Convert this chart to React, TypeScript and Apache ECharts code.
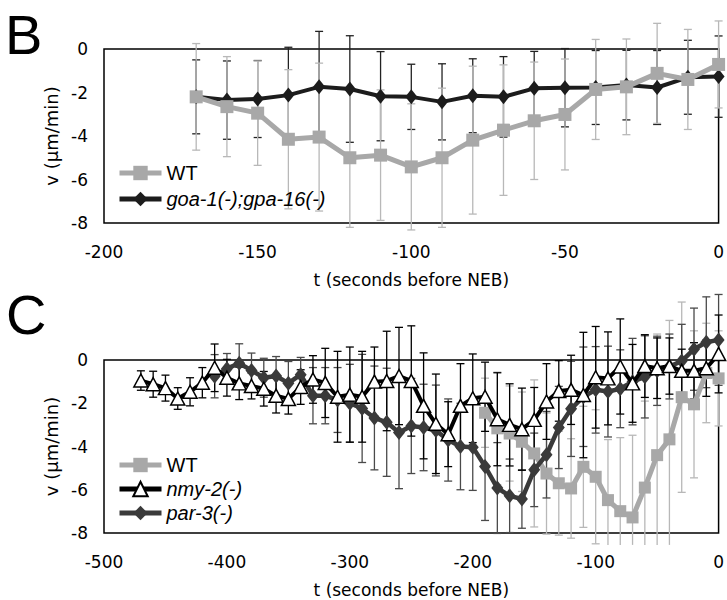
import React, { useEffect, useRef } from 'react';
import * as echarts from 'echarts';

// ---------- Panel B ----------
const tB = [-170, -160, -150, -140, -130, -120, -110, -100, -90, -80, -70, -60, -50, -40, -30, -20, -10, 0];
const wtB = [-2.2, -2.65, -2.95, -4.15, -4.05, -5.0, -4.88, -5.42, -5.0, -4.19, -3.73, -3.3, -3.01, -1.86, -1.74, -1.12, -1.4, -0.71];
const wtBErr = [2.45, 2.3, 2.4, 3.2, 3.4, 3.2, 3.0, 2.9, 3.2, 3.4, 3.0, 2.7, 2.55, 2.3, 2.2, 2.3, 2.3, 2.0];
const goaB = [-2.2, -2.35, -2.3, -2.12, -1.74, -1.84, -2.17, -2.2, -2.43, -2.15, -2.2, -1.81, -1.78, -1.77, -1.66, -1.77, -1.3, -1.27];
const goaBErr = [1.7, 1.8, 1.77, 2.2, 2.55, 2.45, 2.05, 1.5, 1.75, 1.7, 1.85, 1.7, 1.8, 1.7, 1.6, 1.7, 1.7, 1.87];

// ---------- Panel C ----------
const tWtC = [-190, -180, -170, -160, -150, -140, -130, -120, -110, -100, -90, -80, -70, -60, -50, -40, -30, -20, -10, 0];
const wtC = [-2.44, -3.16, -3.4, -3.78, -4.32, -5.25, -5.7, -5.94, -4.94, -5.4, -6.48, -6.99, -7.28, -5.9, -4.4, -3.67, -1.72, -2.05, -0.6, -0.85];
const wtCErr = [1.6, 2.6, 2.2, 2.3, 3.4, 2.8, 2.4, 2.3, 2.8, 3.1, 2.8, 3.4, 3.8, 4.0, 5.6, 5.5, 4.4, 3.4, 2.3, 2.2];

const tNmy = [-470, -460, -450, -440, -430, -420, -410, -400, -390, -380, -370, -360, -350, -340, -330, -320, -310, -300, -290, -280, -270, -260, -250, -240, -230, -220, -210, -200, -190, -180, -170, -160, -150, -140, -130, -120, -110, -100, -90, -80, -70, -60, -50, -40, -30, -20, -10, 0];
const nmy = [-0.95, -1.12, -1.3, -1.78, -1.47, -1.05, -0.36, -0.82, -1.08, -1.2, -1.33, -1.65, -1.8, -1.25, -0.9, -1.06, -1.7, -1.6, -1.7, -1.0, -0.97, -0.74, -0.97, -2.12, -2.95, -3.43, -2.12, -1.77, -1.7, -2.74, -3.0, -3.2, -2.77, -1.92, -1.43, -1.38, -1.62, -0.8, -0.85, -0.3, -1.08, -0.28, -0.38, -0.28, -0.5, -0.5, -0.38, 0.28];
const nmyErr = [0.45, 0.6, 0.6, 0.5, 0.65, 0.7, 1.1, 0.85, 0.75, 0.6, 0.8, 0.8, 0.7, 0.8, 1.1, 1.6, 2.1, 2.2, 2.1, 1.6, 2.3, 2.25, 2.55, 2.45, 2.3, 1.5, 1.95, 2.05, 1.6, 2.15, 1.9, 1.9, 1.5, 1.75, 1.4, 1.6, 2.9, 2.35, 2.15, 2.2, 1.8, 1.45, 1.4, 1.3, 1.0, 1.3, 1.3, 1.8];

const tPar = [-410, -400, -390, -380, -370, -360, -350, -340, -330, -320, -310, -300, -290, -280, -270, -260, -250, -240, -230, -220, -210, -200, -190, -180, -170, -160, -150, -140, -130, -120, -110, -100, -90, -80, -70, -60, -50, -40, -30, -20, -10, 0];
const par = [-0.75, -0.4, -0.15, -0.48, -0.82, -0.74, -1.07, -0.68, -1.65, -1.65, -1.85, -2.0, -2.24, -2.68, -2.88, -3.35, -3.05, -3.12, -3.26, -3.7, -4.0, -4.03, -4.92, -5.92, -6.28, -6.43, -5.08, -4.38, -3.12, -2.26, -1.7, -1.38, -1.46, -1.33, -1.0, -0.78, -0.5, -0.3, -0.05, 0.5, 0.82, 0.93];
const parErr = [1.0, 0.7, 0.9, 0.8, 0.9, 0.9, 1.0, 0.8, 1.3, 1.3, 1.5, 1.8, 2.5, 2.4, 2.5, 2.6, 2.2, 2.0, 2.1, 1.9, 2.0, 2.0, 2.5, 2.1, 1.7, 1.35, 1.7, 2.0, 1.9, 2.2, 2.3, 2.0, 2.1, 1.8, 2.0, 1.9, 1.6, 1.5, 1.7, 1.9, 2.1, 2.1];

const xTitle = 't (seconds before NEB)';
const yTitle = 'v (\u00b5m/min)';
const LOWER_LIMIT = -8.55; // error bars are cut off just below the plot box

const TICK_FONT = 'DejaVu Sans';
const LEG_FONT = 'Liberation Sans';

const COL_WT = '#a8a8a8';
const COL_WT_ERR = '#b8b8b8';
const COL_GOA = '#1c1c1c';
const COL_NMY = '#000000';
const COL_PAR = '#3a3a3a';

function errSeries(idx: number, ts: number[], vals: number[], errs: number[], color: string, z: number) {
  return {
    type: 'custom',
    xAxisIndex: idx,
    yAxisIndex: idx,
    silent: true,
    clip: false,
    z,
    data: ts.map((t, i) => [t, vals[i], errs[i]]),
    encode: { x: 0, y: 1 },
    renderItem: (_params: any, api: any) => {
      const x = api.value(0);
      const v = api.value(1);
      const e = api.value(2);
      const lowVal = v - e;
      const cut = lowVal < LOWER_LIMIT;
      const top = api.coord([x, v + e]);
      const bot = api.coord([x, cut ? LOWER_LIMIT : lowVal]);
      const hw = 4;
      const style = { stroke: color, lineWidth: 1.3 };
      const children: any[] = [
        { type: 'line', shape: { x1: top[0], y1: top[1], x2: bot[0], y2: bot[1] }, style },
        { type: 'line', shape: { x1: top[0] - hw, y1: top[1], x2: top[0] + hw, y2: top[1] }, style },
      ];
      if (!cut) {
        children.push({ type: 'line', shape: { x1: bot[0] - hw, y1: bot[1], x2: bot[0] + hw, y2: bot[1] }, style });
      }
      return { type: 'group', children };
    },
  };
}

function xAx(idx: number, min: number, interval: number) {
  return {
    type: 'value',
    gridIndex: idx,
    min,
    max: 0,
    interval,
    axisLine: { show: false },
    axisTick: { show: false },
    splitLine: { show: false },
    axisLabel: { fontSize: 17, fontFamily: TICK_FONT, color: '#000', margin: 20 },
    name: xTitle,
    nameLocation: 'middle',
    nameGap: 48,
    nameTextStyle: { fontSize: 17, fontFamily: TICK_FONT, color: '#000' },
  };
}

function yAx(idx: number) {
  return {
    type: 'value',
    gridIndex: idx,
    min: -8,
    max: 0,
    interval: 2,
    axisLine: { show: false },
    axisTick: { show: false },
    splitLine: { show: false },
    axisLabel: { fontSize: 17, fontFamily: TICK_FONT, color: '#000', margin: 16 },
    name: yTitle,
    nameLocation: 'middle',
    nameGap: 42,
    nameRotate: 90,
    nameTextStyle: { fontSize: 18, fontFamily: TICK_FONT, color: '#000' },
  };
}

const legendFormatter = (name: string) => (name === 'WT' ? name : `{i|${name}}`);

function legendOf(names: string[], top: number, gap: number) {
  return {
    data: names,
    orient: 'vertical',
    left: 112,
    top,
    itemGap: gap,
    itemWidth: 42,
    itemHeight: 18,
    selectedMode: false,
    formatter: legendFormatter,
    lineStyle: { width: 5 },
    textStyle: {
      fontSize: 20,
      fontFamily: LEG_FONT,
      color: '#000',
      rich: { i: { fontSize: 20, fontFamily: LEG_FONT, fontStyle: 'italic', color: '#000' } },
    },
  };
}

export default function App() {
  const ref = useRef<HTMLDivElement>(null);
  useEffect(() => {
    if (!ref.current) return;
    const chart = echarts.init(ref.current, undefined, { renderer: 'svg' });
    const option: any = {
      animation: false,
      backgroundColor: '#fff',
      grid: [
        { left: 104, top: 49, width: 619, height: 174, show: true, borderColor: '#000', borderWidth: 1.5, backgroundColor: 'transparent' },
        { left: 104, top: 360, width: 618, height: 173, show: true, borderColor: '#000', borderWidth: 1.5, backgroundColor: 'transparent' },
      ],
      xAxis: [xAx(0, -200, 50), xAx(1, -500, 100)],
      yAxis: [yAx(0), yAx(1)],
      legend: [
        legendOf(['WT', 'goa-1(-);gpa-16(-)'], 158, 6),
        legendOf(['WT', 'nmy-2(-)', 'par-3(-)'], 450, 4),
      ],
      graphic: [
        { type: 'text', left: 5, top: 6, style: { text: 'B', fontSize: 56, fontFamily: LEG_FONT, fill: '#000' } },
        { type: 'text', left: 6, top: 286, style: { text: 'C', fontSize: 56, fontFamily: LEG_FONT, fill: '#000' } },
      ],
      series: [
        errSeries(0, tB, goaB, goaBErr, '#222', 1),
        errSeries(0, tB, wtB, wtBErr, COL_WT_ERR, 1),
        {
          type: 'line', name: 'goa-1(-);gpa-16(-)', xAxisIndex: 0, yAxisIndex: 0, clip: false, z: 3,
          data: tB.map((t, i) => [t, goaB[i]]),
          symbol: 'diamond', symbolSize: [12, 15],
          lineStyle: { color: COL_GOA, width: 4 }, itemStyle: { color: COL_GOA },
        },
        {
          type: 'line', name: 'WT', xAxisIndex: 0, yAxisIndex: 0, clip: false, z: 4,
          data: tB.map((t, i) => [t, wtB[i]]),
          symbol: 'rect', symbolSize: 13,
          lineStyle: { color: COL_WT, width: 5 }, itemStyle: { color: COL_WT },
        },
        errSeries(1, tWtC, wtC, wtCErr, COL_WT_ERR, 1),
        errSeries(1, tPar, par, parErr, '#4a4a4a', 1),
        errSeries(1, tNmy, nmy, nmyErr, '#000', 1),
        {
          type: 'line', name: 'WT', xAxisIndex: 1, yAxisIndex: 1, clip: false, z: 3,
          data: tWtC.map((t, i) => [t, wtC[i]]),
          symbol: 'rect', symbolSize: 12,
          lineStyle: { color: COL_WT, width: 5 }, itemStyle: { color: COL_WT },
        },
        {
          type: 'line', name: 'par-3(-)', xAxisIndex: 1, yAxisIndex: 1, clip: false, z: 4,
          data: tPar.map((t, i) => [t, par[i]]),
          symbol: 'diamond', symbolSize: [12, 15],
          lineStyle: { color: COL_PAR, width: 4.5 }, itemStyle: { color: COL_PAR },
        },
        {
          type: 'line', name: 'nmy-2(-)', xAxisIndex: 1, yAxisIndex: 1, clip: false, z: 5,
          data: tNmy.map((t, i) => [t, nmy[i]]),
          symbol: 'triangle', symbolSize: [14, 13],
          lineStyle: { color: COL_NMY, width: 4 },
          itemStyle: { color: '#fff', borderColor: '#000', borderWidth: 1.5 },
        },
      ],
    };
    chart.setOption(option);
    return () => chart.dispose();
  }, []);
  return (
    <div
      ref={ref}
      style={{ position: 'fixed', left: 0, top: 0, width: 727, height: 600, background: '#fff' }}
    />
  );
}
